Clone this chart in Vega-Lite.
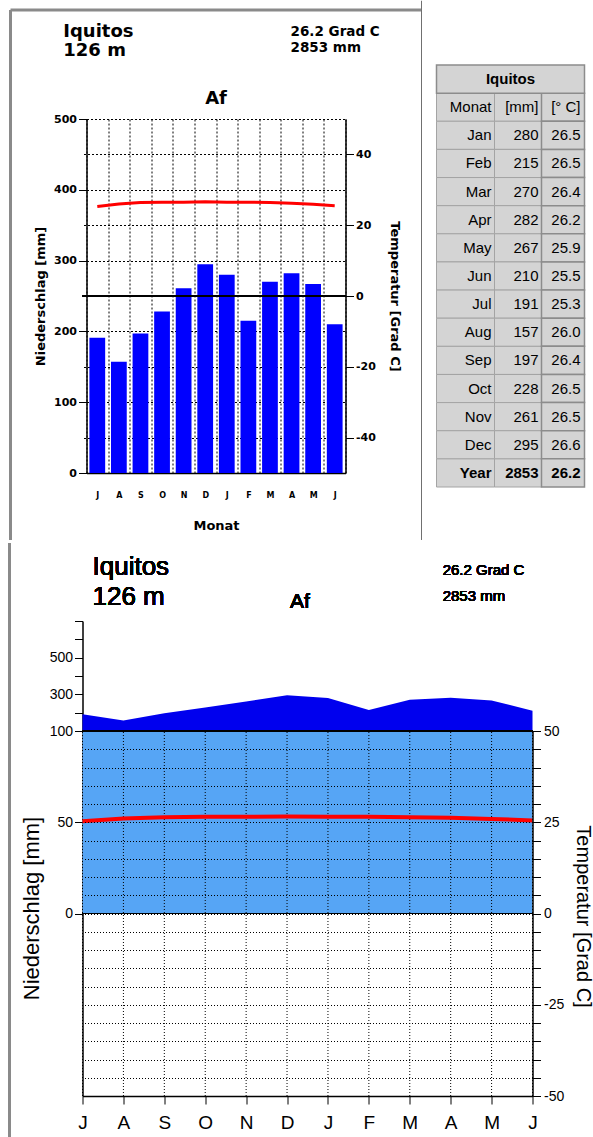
{
  "$schema": "https://vega.github.io/schema/vega-lite/v6.json",
  "autosize": {"type": "pad"},
  "padding": {"left": 7.5, "top": 0, "right": 5, "bottom": 0},
  "background": "white",
  "config": {
    "view": {"stroke": null},
    "font": "Liberation Sans",
    "scale": {"pointPadding": 0, "bandPaddingInner": 0, "bandPaddingOuter": 0},
    "axis": {"domainColor": "#000", "tickColor": "#000", "labelColor": "#000", "titleColor": "#000", "gridOpacity": 1},
    "text": {"color": "#000"}
  },
  "datasets": {
    "climate": [
      {"m": "Jul", "mm": 191, "t": 25.3},
      {"m": "Aug", "mm": 157, "t": 26.0},
      {"m": "Sep", "mm": 197, "t": 26.4},
      {"m": "Oct", "mm": 228, "t": 26.5},
      {"m": "Nov", "mm": 261, "t": 26.5},
      {"m": "Dec", "mm": 295, "t": 26.6},
      {"m": "Jan", "mm": 280, "t": 26.5},
      {"m": "Feb", "mm": 215, "t": 26.5},
      {"m": "Mar", "mm": 270, "t": 26.4},
      {"m": "Apr", "mm": 282, "t": 26.2},
      {"m": "May", "mm": 267, "t": 25.9},
      {"m": "Jun", "mm": 210, "t": 25.5}
    ],
    "table": [
      {"r": "Iquitos", "h": "Iquitos"},
      {"r": "Monat", "a": "Monat", "b": "[mm]", "c": "[° C]"},
      {"r": "Jan", "a": "Jan", "b": "280", "c": "26.5"},
      {"r": "Feb", "a": "Feb", "b": "215", "c": "26.5"},
      {"r": "Mar", "a": "Mar", "b": "270", "c": "26.4"},
      {"r": "Apr", "a": "Apr", "b": "282", "c": "26.2"},
      {"r": "May", "a": "May", "b": "267", "c": "25.9"},
      {"r": "Jun", "a": "Jun", "b": "210", "c": "25.5"},
      {"r": "Jul", "a": "Jul", "b": "191", "c": "25.3"},
      {"r": "Aug", "a": "Aug", "b": "157", "c": "26.0"},
      {"r": "Sep", "a": "Sep", "b": "197", "c": "26.4"},
      {"r": "Oct", "a": "Oct", "b": "228", "c": "26.5"},
      {"r": "Nov", "a": "Nov", "b": "261", "c": "26.5"},
      {"r": "Dec", "a": "Dec", "b": "295", "c": "26.6"},
      {"r": "Year", "a": "Year", "b": "2853", "c": "26.2"}
    ]
  },
  "vconcat": [
    {
      "width": 263,
      "height": 354,
      "layer": [
        {
          "data": {"values": [{}]},
          "mark": {"type": "rule", "color": "#8a8a8a", "strokeWidth": 3},
          "encoding": {
            "x": {"datum": -426, "type": "quantitative", "scale": {"domain": [0, 149], "range": [354, 503]}, "axis": null},
            "y": {"datum": 654, "type": "quantitative", "scale": {"domain": [0, 500], "nice": false}, "axis": null},
            "y2": {"datum": -94.6}
          }
        },
        {
          "data": {"values": [{}]},
          "mark": {"type": "rule", "color": "#8a8a8a", "strokeWidth": 3},
          "encoding": {
            "x": {"datum": -426, "type": "quantitative", "scale": {"domain": [0, 149], "range": [354, 503]}, "axis": null},
            "x2": {"datum": -15},
            "y": {"datum": 654, "type": "quantitative", "scale": {"domain": [0, 500], "nice": false}, "axis": null}
          }
        },
        {
          "data": {"values": [{}]},
          "mark": {"type": "rule", "color": "#707070", "strokeWidth": 1},
          "encoding": {
            "x": {"datum": -15, "type": "quantitative", "scale": {"domain": [0, 149], "range": [354, 503]}, "axis": null},
            "y": {"datum": 667, "type": "quantitative", "scale": {"domain": [0, 500], "nice": false}, "axis": null},
            "y2": {"datum": -94.6}
          }
        },
        {
          "data": {"values": [{}]},
          "mark": {"type": "rule", "color": "#8a8a8a", "strokeWidth": 3},
          "encoding": {
            "x": {"datum": -427, "type": "quantitative", "scale": {"domain": [0, 149], "range": [354, 503]}, "axis": null},
            "y": {"datum": -98.9, "type": "quantitative", "scale": {"domain": [0, 500], "nice": false}, "axis": null},
            "y2": {"datum": -937.9}
          }
        },
        {
          "data": {"name": "climate"},
          "mark": {"type": "bar", "color": "#0000ff", "width": {"band": 0.73}},
          "encoding": {
            "x": {
              "field": "m", "type": "nominal",
              "scale": {"type": "band", "domain": ["Jul", "Aug", "Sep", "Oct", "Nov", "Dec", "Jan", "Feb", "Mar", "Apr", "May", "Jun"], "range": [4, 263], "paddingInner": 0, "paddingOuter": 0},
              "axis": {"title": "Monat", "labelExpr": "substring(datum.label,0,1)", "labelAngle": 0, "tickBand": "extent", "ticks": false, "grid": true, "gridColor": "#000", "gridDash": [2, 2], "labelFont": "DejaVu Sans", "labelFontSize": 8, "labelFontWeight": "bold", "labelPadding": 18, "titleFont": "DejaVu Sans", "titleFontSize": 13, "titleFontWeight": "bold", "titlePadding": 20, "domainWidth": 1.5}
            },
            "y": {
              "field": "mm", "type": "quantitative",
              "scale": {"domain": [0, 500], "nice": false},
              "axis": {"title": "Niederschlag [mm]", "offset": -4, "values": [0, 100, 200, 300, 400, 500], "grid": true, "gridColor": "#000", "gridDash": [2, 2], "tickSize": 8, "labelFont": "DejaVu Sans", "labelFontSize": 11, "labelFontWeight": "bold", "labelPadding": 2, "titleFont": "DejaVu Sans", "titleFontSize": 13, "titleFontWeight": "bold", "titlePadding": 6, "domainWidth": 1.5}
            }
          }
        },
        {
          "data": {"name": "climate"},
          "mark": {"type": "rule", "color": "#000", "strokeWidth": 1},
          "encoding": {"y": {"datum": 0, "type": "quantitative", "scale": {"domain": [-50, 50], "nice": false, "zero": false}, "axis": null}}
        },
        {
          "data": {"name": "climate"},
          "mark": {"type": "line", "color": "#ff0000", "strokeWidth": 3},
          "encoding": {
            "x": {"field": "m", "type": "nominal", "scale": {"type": "point", "domain": ["Jul", "Aug", "Sep", "Oct", "Nov", "Dec", "Jan", "Feb", "Mar", "Apr", "May", "Jun"], "range": [4, 263], "padding": 0.5}, "axis": null},
            "y": {
              "field": "t", "type": "quantitative",
              "scale": {"domain": [-50, 50], "nice": false, "zero": false},
              "axis": {"orient": "right", "title": "Temperatur [Grad C]", "values": [-40, -20, 0, 20, 40], "grid": true, "gridColor": "#000", "gridDash": [2, 2], "tickSize": 8, "labelFont": "DejaVu Sans", "labelFontSize": 11, "labelFontWeight": "bold", "labelPadding": 2, "labelExpr": "'' + datum.value", "titleFont": "DejaVu Sans", "titleFontSize": 13, "titleFontWeight": "bold", "titlePadding": 12, "domainWidth": 1.5}
            }
          }
        },
        {
          "data": {"values": [{}]},
          "mark": {"type": "text", "text": "Iquitos", "font": "DejaVu Sans", "fontSize": 18, "fontWeight": "bold", "align": "left", "baseline": "alphabetic", "dx": -34},
          "encoding": {
            "x": {"datum": "Jul", "type": "nominal", "scale": {"type": "point", "domain": ["Jul", "Aug", "Sep", "Oct", "Nov", "Dec", "Jan", "Feb", "Mar", "Apr", "May", "Jun"], "range": [4, 263], "padding": 0.5}, "axis": null},
            "y": {"datum": 616, "type": "quantitative", "scale": {"domain": [0, 500], "nice": false}, "axis": null}
          }
        },
        {
          "data": {"values": [{}]},
          "mark": {"type": "text", "text": "126 m", "font": "DejaVu Sans", "fontSize": 18, "fontWeight": "bold", "align": "left", "baseline": "alphabetic", "dx": -34},
          "encoding": {
            "x": {"datum": "Jul", "type": "nominal", "scale": {"type": "point", "domain": ["Jul", "Aug", "Sep", "Oct", "Nov", "Dec", "Jan", "Feb", "Mar", "Apr", "May", "Jun"], "range": [4, 263], "padding": 0.5}, "axis": null},
            "y": {"datum": 589, "type": "quantitative", "scale": {"domain": [0, 500], "nice": false}, "axis": null}
          }
        },
        {
          "data": {"values": [{}]},
          "mark": {"type": "text", "text": "Af", "font": "DejaVu Sans", "fontSize": 18, "fontWeight": "bold", "align": "center", "baseline": "alphabetic", "dx": 10.8},
          "encoding": {
            "x": {"datum": "Dec", "type": "nominal", "scale": {"type": "point", "domain": ["Jul", "Aug", "Sep", "Oct", "Nov", "Dec", "Jan", "Feb", "Mar", "Apr", "May", "Jun"], "range": [4, 263], "padding": 0.5}, "axis": null},
            "y": {"datum": 521, "type": "quantitative", "scale": {"domain": [0, 500], "nice": false}, "axis": null}
          }
        },
        {
          "data": {"values": [{}]},
          "mark": {"type": "text", "text": "26.2 Grad C", "font": "DejaVu Sans", "fontSize": 13.5, "fontWeight": "bold", "align": "left", "baseline": "alphabetic", "dx": -1},
          "encoding": {
            "x": {"datum": "Apr", "type": "nominal", "scale": {"type": "point", "domain": ["Jul", "Aug", "Sep", "Oct", "Nov", "Dec", "Jan", "Feb", "Mar", "Apr", "May", "Jun"], "range": [4, 263], "padding": 0.5}, "axis": null},
            "y": {"datum": 617, "type": "quantitative", "scale": {"domain": [0, 500], "nice": false}, "axis": null}
          }
        },
        {
          "data": {"values": [{}]},
          "mark": {"type": "text", "text": "2853 mm", "font": "DejaVu Sans", "fontSize": 13.5, "fontWeight": "bold", "align": "left", "baseline": "alphabetic", "dx": -1},
          "encoding": {
            "x": {"datum": "Apr", "type": "nominal", "scale": {"type": "point", "domain": ["Jul", "Aug", "Sep", "Oct", "Nov", "Dec", "Jan", "Feb", "Mar", "Apr", "May", "Jun"], "range": [4, 263], "padding": 0.5}, "axis": null},
            "y": {"datum": 595, "type": "quantitative", "scale": {"domain": [0, 500], "nice": false}, "axis": null}
          }
        },
        {
          "data": {"name": "table"},
          "transform": [{"filter": "datum.r !== 'Iquitos'"}],
          "mark": {"type": "rect", "fill": "#d4d4d4", "stroke": "#a4a4a4", "strokeWidth": 1},
          "encoding": {
            "x": {"datum": 0, "type": "quantitative", "scale": {"domain": [0, 149], "range": [354, 503]}, "axis": null},
            "x2": {"datum": 58},
            "y": {"field": "r", "type": "nominal", "scale": {"type": "band", "domain": ["Iquitos", "Monat", "Jan", "Feb", "Mar", "Apr", "May", "Jun", "Jul", "Aug", "Sep", "Oct", "Nov", "Dec", "Year"], "range": [-54, 368], "paddingInner": 0, "paddingOuter": 0}, "axis": null}
          }
        },
        {
          "data": {"name": "table"},
          "transform": [{"filter": "datum.r !== 'Iquitos'"}],
          "mark": {"type": "rect", "fill": "#d4d4d4", "stroke": "#a4a4a4", "strokeWidth": 1},
          "encoding": {
            "x": {"datum": 58, "type": "quantitative", "scale": {"domain": [0, 149], "range": [354, 503]}, "axis": null},
            "x2": {"datum": 105},
            "y": {"field": "r", "type": "nominal", "scale": {"type": "band", "domain": ["Iquitos", "Monat", "Jan", "Feb", "Mar", "Apr", "May", "Jun", "Jul", "Aug", "Sep", "Oct", "Nov", "Dec", "Year"], "range": [-54, 368], "paddingInner": 0, "paddingOuter": 0}, "axis": null}
          }
        },
        {
          "data": {"name": "table"},
          "transform": [{"filter": "datum.r !== 'Iquitos'"}],
          "mark": {"type": "rect", "fill": "#d4d4d4", "stroke": "#8c8c8c", "strokeWidth": 1.5},
          "encoding": {
            "x": {"datum": 105, "type": "quantitative", "scale": {"domain": [0, 149], "range": [354, 503]}, "axis": null},
            "x2": {"datum": 148},
            "y": {"field": "r", "type": "nominal", "scale": {"type": "band", "domain": ["Iquitos", "Monat", "Jan", "Feb", "Mar", "Apr", "May", "Jun", "Jul", "Aug", "Sep", "Oct", "Nov", "Dec", "Year"], "range": [-54, 368], "paddingInner": 0, "paddingOuter": 0}, "axis": null}
          }
        },
        {
          "data": {"name": "table"},
          "transform": [{"filter": "datum.r === 'Iquitos'"}],
          "mark": {"type": "rect", "fill": "#d4d4d4", "stroke": "#8c8c8c", "strokeWidth": 1.5},
          "encoding": {
            "x": {"datum": 0, "type": "quantitative", "scale": {"domain": [0, 149], "range": [354, 503]}, "axis": null},
            "x2": {"datum": 148},
            "y": {"field": "r", "type": "nominal", "scale": {"type": "band", "domain": ["Iquitos", "Monat", "Jan", "Feb", "Mar", "Apr", "May", "Jun", "Jul", "Aug", "Sep", "Oct", "Nov", "Dec", "Year"], "range": [-54, 368], "paddingInner": 0, "paddingOuter": 0}, "axis": null}
          }
        },
        {
          "data": {"name": "table"},
          "transform": [{"filter": "datum.r === 'Iquitos'"}],
          "mark": {"type": "text", "font": "Liberation Sans", "fontSize": 15, "fontWeight": "bold", "align": "center", "baseline": "middle"},
          "encoding": {
            "x": {"datum": 74, "type": "quantitative", "scale": {"domain": [0, 149], "range": [354, 503]}, "axis": null},
            "y": {"field": "r", "type": "nominal", "scale": {"type": "band", "domain": ["Iquitos", "Monat", "Jan", "Feb", "Mar", "Apr", "May", "Jun", "Jul", "Aug", "Sep", "Oct", "Nov", "Dec", "Year"], "range": [-54, 368], "paddingInner": 0, "paddingOuter": 0}, "axis": null},
            "text": {"field": "h"}
          }
        },
        {
          "data": {"name": "table"},
          "transform": [{"filter": "datum.r !== 'Iquitos' && datum.r !== 'Year'"}],
          "mark": {"type": "text", "font": "Liberation Sans", "fontSize": 15, "align": "right", "baseline": "middle"},
          "encoding": {
            "x": {"datum": 55, "type": "quantitative", "scale": {"domain": [0, 149], "range": [354, 503]}, "axis": null},
            "y": {"field": "r", "type": "nominal", "scale": {"type": "band", "domain": ["Iquitos", "Monat", "Jan", "Feb", "Mar", "Apr", "May", "Jun", "Jul", "Aug", "Sep", "Oct", "Nov", "Dec", "Year"], "range": [-54, 368], "paddingInner": 0, "paddingOuter": 0}, "axis": null},
            "text": {"field": "a"}
          }
        },
        {
          "data": {"name": "table"},
          "transform": [{"filter": "datum.r !== 'Iquitos' && datum.r !== 'Year'"}],
          "mark": {"type": "text", "font": "Liberation Sans", "fontSize": 15, "align": "right", "baseline": "middle"},
          "encoding": {
            "x": {"datum": 102, "type": "quantitative", "scale": {"domain": [0, 149], "range": [354, 503]}, "axis": null},
            "y": {"field": "r", "type": "nominal", "scale": {"type": "band", "domain": ["Iquitos", "Monat", "Jan", "Feb", "Mar", "Apr", "May", "Jun", "Jul", "Aug", "Sep", "Oct", "Nov", "Dec", "Year"], "range": [-54, 368], "paddingInner": 0, "paddingOuter": 0}, "axis": null},
            "text": {"field": "b"}
          }
        },
        {
          "data": {"name": "table"},
          "transform": [{"filter": "datum.r !== 'Iquitos' && datum.r !== 'Year'"}],
          "mark": {"type": "text", "font": "Liberation Sans", "fontSize": 15, "align": "right", "baseline": "middle"},
          "encoding": {
            "x": {"datum": 144, "type": "quantitative", "scale": {"domain": [0, 149], "range": [354, 503]}, "axis": null},
            "y": {"field": "r", "type": "nominal", "scale": {"type": "band", "domain": ["Iquitos", "Monat", "Jan", "Feb", "Mar", "Apr", "May", "Jun", "Jul", "Aug", "Sep", "Oct", "Nov", "Dec", "Year"], "range": [-54, 368], "paddingInner": 0, "paddingOuter": 0}, "axis": null},
            "text": {"field": "c"}
          }
        },
        {
          "data": {"name": "table"},
          "transform": [{"filter": "datum.r === 'Year'"}],
          "mark": {"type": "text", "font": "Liberation Sans", "fontSize": 15, "fontWeight": "bold", "align": "right", "baseline": "middle"},
          "encoding": {
            "x": {"datum": 55, "type": "quantitative", "scale": {"domain": [0, 149], "range": [354, 503]}, "axis": null},
            "y": {"field": "r", "type": "nominal", "scale": {"type": "band", "domain": ["Iquitos", "Monat", "Jan", "Feb", "Mar", "Apr", "May", "Jun", "Jul", "Aug", "Sep", "Oct", "Nov", "Dec", "Year"], "range": [-54, 368], "paddingInner": 0, "paddingOuter": 0}, "axis": null},
            "text": {"field": "a"}
          }
        },
        {
          "data": {"name": "table"},
          "transform": [{"filter": "datum.r === 'Year'"}],
          "mark": {"type": "text", "font": "Liberation Sans", "fontSize": 15, "fontWeight": "bold", "align": "right", "baseline": "middle"},
          "encoding": {
            "x": {"datum": 102, "type": "quantitative", "scale": {"domain": [0, 149], "range": [354, 503]}, "axis": null},
            "y": {"field": "r", "type": "nominal", "scale": {"type": "band", "domain": ["Iquitos", "Monat", "Jan", "Feb", "Mar", "Apr", "May", "Jun", "Jul", "Aug", "Sep", "Oct", "Nov", "Dec", "Year"], "range": [-54, 368], "paddingInner": 0, "paddingOuter": 0}, "axis": null},
            "text": {"field": "b"}
          }
        },
        {
          "data": {"name": "table"},
          "transform": [{"filter": "datum.r === 'Year'"}],
          "mark": {"type": "text", "font": "Liberation Sans", "fontSize": 15, "fontWeight": "bold", "align": "right", "baseline": "middle"},
          "encoding": {
            "x": {"datum": 144, "type": "quantitative", "scale": {"domain": [0, 149], "range": [354, 503]}, "axis": null},
            "y": {"field": "r", "type": "nominal", "scale": {"type": "band", "domain": ["Iquitos", "Monat", "Jan", "Feb", "Mar", "Apr", "May", "Jun", "Jul", "Aug", "Sep", "Oct", "Nov", "Dec", "Year"], "range": [-54, 368], "paddingInner": 0, "paddingOuter": 0}, "axis": null},
            "text": {"field": "c"}
          }
        }
      ],
      "resolve": {"scale": {"x": "independent", "y": "independent"}, "axis": {"x": "independent", "y": "independent"}}
    },
    {
      "width": 450,
      "height": 475,
      "data": {"name": "climate"},
      "layer": [
        {
          "mark": {"type": "area", "color": "#56a5f5", "opacity": 1},
          "encoding": {
            "x": {
              "field": "m", "type": "nominal",
              "scale": {"type": "point", "domain": ["Jul", "Aug", "Sep", "Oct", "Nov", "Dec", "Jan", "Feb", "Mar", "Apr", "May", "Jun"], "padding": 0},
              "axis": {"title": null, "labelExpr": "substring(datum.label,0,1)", "labelAngle": 0, "tickSize": 8, "labelFont": "Liberation Sans", "labelFontSize": 19, "labelPadding": 9, "grid": false, "domainWidth": 1.5}
            },
            "y": {
              "datum": 0, "type": "quantitative",
              "scale": {"domain": [-100, 100, 700], "range": [475, 110, 0], "nice": false, "zero": false},
              "axis": {"title": "Niederschlag [mm]", "values": [0, 50, 100, 200, 300, 400, 500, 600, 700], "labelExpr": "indexof([0, 50, 100, 300, 500], datum.value) >= 0 ? datum.label : ''", "grid": false, "tickSize": 8, "labelFont": "Liberation Sans", "labelFontSize": 14, "labelPadding": 2, "titleFont": "Liberation Sans", "titleFontSize": 22, "titleFontWeight": "normal", "titlePadding": 6, "titleY": 287, "domainWidth": 1.5}
            },
            "y2": {"datum": 100}
          }
        },
        {
          "mark": {"type": "area", "color": "#0000ee", "opacity": 1},
          "encoding": {
            "x": {"field": "m", "type": "nominal"},
            "y": {"field": "mm", "type": "quantitative", "scale": {"domain": [-100, 100, 700], "range": [475, 110, 0], "nice": false, "zero": false}, "axis": null},
            "y2": {"datum": 100}
          }
        },
        {
          "mark": {"type": "rule", "color": "#000", "strokeDash": [1, 2], "strokeWidth": 1},
          "encoding": {
            "x": {"field": "m", "type": "nominal"},
            "y": {"datum": -100, "type": "quantitative", "scale": {"domain": [-100, 100, 700], "range": [475, 110, 0], "nice": false, "zero": false}, "axis": null},
            "y2": {"datum": 100}
          }
        },
        {
          "mark": {"type": "rule", "color": "#000", "strokeWidth": 1.5},
          "encoding": {"y": {"datum": 100, "type": "quantitative", "scale": {"domain": [-100, 100, 700], "range": [475, 110, 0], "nice": false, "zero": false}, "axis": null}}
        },
        {
          "mark": {"type": "rule", "color": "#000", "strokeWidth": 1.2},
          "encoding": {"y": {"datum": 0, "type": "quantitative", "scale": {"domain": [-100, 100, 700], "range": [475, 110, 0], "nice": false, "zero": false}, "axis": null}}
        },
        {
          "mark": {"type": "line", "color": "#ff0000", "strokeWidth": 4},
          "encoding": {
            "x": {"field": "m", "type": "nominal"},
            "y": {
              "field": "t", "type": "quantitative",
              "scale": {"domain": [-50, 50], "range": [475, 110], "nice": false, "zero": false},
              "axis": {"orient": "right", "title": "Temperatur [Grad C]", "values": [-50, -45, -40, -35, -30, -25, -20, -15, -10, -5, 0, 5, 10, 15, 20, 25, 30, 35, 40, 45, 50], "labelExpr": "datum.value % 25 === 0 ? '' + datum.value : ''", "grid": true, "gridColor": "#000", "gridDash": [1, 2], "zindex": 1, "tickSize": 8, "labelFont": "Liberation Sans", "labelFontSize": 14, "labelPadding": 3, "titleFont": "Liberation Sans", "titleFontSize": 20, "titleFontWeight": "normal", "titlePadding": 9, "titleY": 295, "domainWidth": 1.5}
            }
          }
        },
        {
          "mark": {"type": "text", "text": "Iquitos", "font": "Liberation Sans", "fontSize": 26, "align": "left", "baseline": "alphabetic", "dx": 10},
          "encoding": {"x": {"datum": "Jul", "type": "nominal"}, "y": {"datum": 951, "type": "quantitative", "scale": {"domain": [-100, 100, 700], "range": [475, 110, 0], "nice": false, "zero": false}, "axis": null}}
        },
        {
          "mark": {"type": "text", "text": "126 m", "font": "Liberation Sans", "fontSize": 26, "align": "left", "baseline": "alphabetic", "dx": 10},
          "encoding": {"x": {"datum": "Jul", "type": "nominal"}, "y": {"datum": 787, "type": "quantitative", "scale": {"domain": [-100, 100, 700], "range": [475, 110, 0], "nice": false, "zero": false}, "axis": null}}
        },
        {
          "mark": {"type": "text", "text": "Af", "font": "Liberation Sans", "fontSize": 21, "align": "left", "baseline": "alphabetic", "dx": 3},
          "encoding": {"x": {"datum": "Dec", "type": "nominal"}, "y": {"datum": 771, "type": "quantitative", "scale": {"domain": [-100, 100, 700], "range": [475, 110, 0], "nice": false, "zero": false}, "axis": null}}
        },
        {
          "mark": {"type": "text", "text": "26.2 Grad C", "font": "Liberation Sans", "fontSize": 15, "align": "left", "baseline": "alphabetic", "dx": -8},
          "encoding": {"x": {"datum": "Apr", "type": "nominal"}, "y": {"datum": 951, "type": "quantitative", "scale": {"domain": [-100, 100, 700], "range": [475, 110, 0], "nice": false, "zero": false}, "axis": null}}
        },
        {
          "mark": {"type": "text", "text": "2853 mm", "font": "Liberation Sans", "fontSize": 15, "align": "left", "baseline": "alphabetic", "dx": -8},
          "encoding": {"x": {"datum": "Apr", "type": "nominal"}, "y": {"datum": 809, "type": "quantitative", "scale": {"domain": [-100, 100, 700], "range": [475, 110, 0], "nice": false, "zero": false}, "axis": null}}
        }
      ],
      "resolve": {"scale": {"y": "independent"}}
    }
  ],
  "spacing": 148,
  "bounds": "flush"
}
